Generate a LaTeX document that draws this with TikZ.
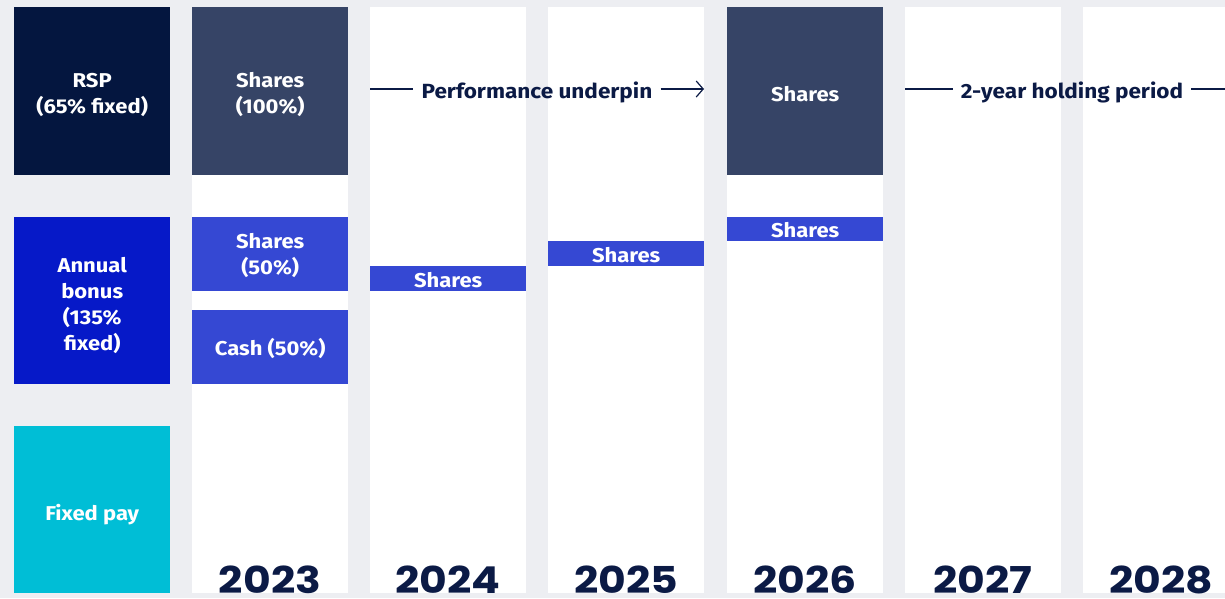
\documentclass[tikz,border=0pt]{standalone}
\usepackage{fontspec}
\setmainfont{Fira Sans}
\newfontfamily\boxfont[FakeStretch=1.1]{Fira Sans}
\newfontfamily\yearfont{Poppins}
\usetikzlibrary{arrows.meta}
\definecolor{bg}{HTML}{EDEEF2}
\definecolor{navy}{HTML}{04163F}
\definecolor{slate}{HTML}{364466}
\definecolor{royal}{HTML}{0619C8}
\definecolor{midblue}{HTML}{3548D3}
\definecolor{cyanpay}{HTML}{00BED6}
\definecolor{ink}{HTML}{0B1A45}
\begin{document}
\begin{tikzpicture}[x=1pt,y=-1pt,
  colbox/.style={rectangle,inner sep=0pt,anchor=north west,minimum width=156pt,fill=white},
  cbox/.style={rectangle,inner sep=0pt,anchor=north west,minimum width=156pt},
  btxt/.style={inner sep=0pt,text=white,align=center,font=\boxfont\bfseries\fontsize{20}{26}\selectfont},
  yearlbl/.style={anchor=base,text=ink,inner sep=0pt,font=\yearfont\bfseries\fontsize{37}{37}\selectfont},
  phase/.style={text=ink,inner sep=0pt,font=\boxfont\bfseries\fontsize{20.5}{26}\selectfont},
  tl/.style={draw=ink,line width=1.3pt}]
\fill[bg] (0,0) rectangle (1225,598);
\useasboundingbox (0,0) rectangle (1225,598);
% white year columns
\node[colbox,minimum height=586pt] (c23) at (192,7) {};
\node[colbox,minimum height=586pt] (c24) at (370,7) {};
\node[colbox,minimum height=586pt] (c25) at (548,7) {};
\node[colbox,minimum height=586pt] (c26) at (727,7) {};
\node[colbox,minimum height=586pt] (c27) at (905,7) {};
\node[colbox,minimum height=586pt] (c28) at (1083,7) {};
% left labels
\node[cbox,fill=navy,minimum height=168pt] (rsp) at (14,7) {};
\node[cbox,fill=royal,minimum height=167pt] (bonus) at (14,217) {};
\node[cbox,fill=cyanpay,minimum height=167pt] (fixed) at (14,426) {};
\node[btxt] (rspt) at ([yshift=-4pt]rsp.center) {RSP\\(65\% fixed)};
\node[btxt] (bonust) at ([yshift=-4.5pt]bonus.center) {Annual\\bonus\\(135\%\\fixed)};
\node[btxt] (fixedt) at ([yshift=-5pt]fixed.center) {Fixed pay};
% 2023
\node[cbox,fill=slate,minimum height=168pt] (sh100) at (192,7) {};
\node[cbox,fill=midblue,minimum height=74pt] (sh50) at (192,217) {};
\node[cbox,fill=midblue,minimum height=74pt] (cash) at (192,310) {};
\node[btxt] (sh100t) at ([yshift=-3.5pt]sh100.center) {Shares\\(100\%)};
\node[btxt] (sh50t) at ([yshift=-1.5pt]sh50.center) {Shares\\(50\%)};
\node[btxt] (casht) at ([yshift=-1pt]cash.center) {Cash (50\%)};
% deferred shares
\node[cbox,fill=midblue,minimum height=25pt] (sh24) at (370,266) {};
\node[cbox,fill=midblue,minimum height=25pt] (sh25) at (548,241) {};
\node[cbox,fill=midblue,minimum height=24pt] (sh26) at (727,217) {};
\node[cbox,fill=slate,minimum height=168pt] (shrsp) at (727,7) {};
\node[btxt] (sh24t) at ([yshift=-1pt]sh24.center) {Shares};
\node[btxt] (sh25t) at ([yshift=-1pt]sh25.center) {Shares};
\node[btxt] (sh26t) at ([yshift=-1pt]sh26.center) {Shares};
\node[btxt] (shrspt) at ([yshift=-3pt]shrsp.center) {Shares};
% phase labels
\node[phase] (perf) at (537,92) {Performance underpin};
\node[phase] (hold) at (1072,92) {2-year holding period};
\coordinate (p0) at (370,89);
\coordinate (p1) at (704,89);
\coordinate (h0) at (905,89);
\coordinate (h1) at (1225,89);
\draw[tl] (p0) -- ([xshift=-8pt]perf.west |- p0);
\draw[tl,-{Straight Barb[length=7pt,width=16pt,line width=1.2pt]}] ([xshift=8pt]perf.east |- p1) -- (p1);
\draw[tl] (h0) -- ([xshift=-8pt]hold.west |- h0);
\draw[tl] ([xshift=8pt]hold.east |- h1) -- (h1);
% years
\node[yearlbl] (y23) at (270,593) {\scalebox{1.15}[1]{2023}};
\node[yearlbl] (y24) at (448,593) {\scalebox{1.15}[1]{2024}};
\node[yearlbl] (y25) at (626,593) {\scalebox{1.15}[1]{2025}};
\node[yearlbl] (y26) at (805,593) {\scalebox{1.15}[1]{2026}};
\node[yearlbl] (y27) at (983,593) {\scalebox{1.15}[1]{2027}};
\node[yearlbl] (y28) at (1161,593) {\scalebox{1.15}[1]{2028}};
\end{tikzpicture}
\end{document}
